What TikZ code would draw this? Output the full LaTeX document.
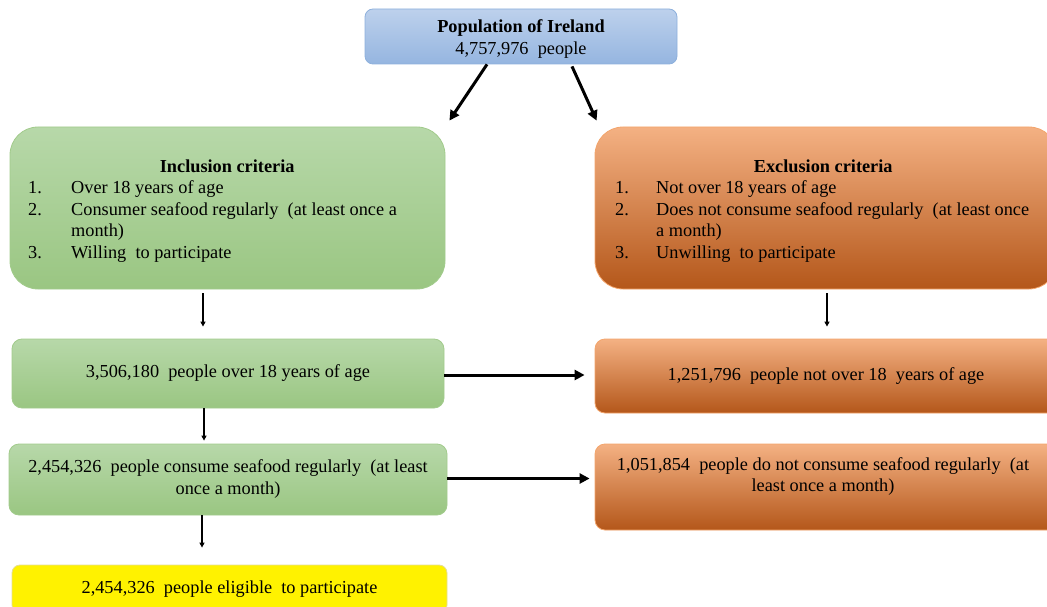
\documentclass[tikz,border=0pt]{standalone}
\usepackage{fontspec}
\setmainfont{Liberation Serif}
\usetikzlibrary{arrows.meta,calc}
\definecolor{blutop}{HTML}{BDD1EC}
\definecolor{blubot}{HTML}{95B5E0}
\definecolor{bluline}{HTML}{8DB0DC}
\definecolor{grntop}{HTML}{B7D8A9}
\definecolor{grnbot}{HTML}{9AC682}
\definecolor{grnline}{HTML}{A2CB8C}
\definecolor{ortop}{HTML}{F4B183}
\definecolor{ormid}{HTML}{EB8235}
\definecolor{orbot}{HTML}{B4571A}
\definecolor{orline}{HTML}{F3A56C}
\definecolor{yelline}{HTML}{E4DC96}
\newcommand{\dsp}{\hspace{0.25em} }
\newcommand{\itemnum}[2]{\makebox[#1][l]{#2}}
\begin{document}
\begin{tikzpicture}[x=1pt,y=-1pt,
  font=\fontsize{18.3}{21.5}\selectfont,
  boxbase/.style={draw, line width=0.8pt, inner sep=0pt, align=center},
  bluebox/.style={boxbase, draw=bluline, top color=blutop, bottom color=blubot, rounded corners=8pt},
  greenbox/.style={boxbase, draw=grnline, top color=grntop, bottom color=grnbot},
  orangebox/.style={boxbase, draw=orline, top color=ortop, middle color=ormid, bottom color=orbot},
  yellowbox/.style={boxbase, draw=yelline, fill=yellow, rounded corners=8pt},
  bigarr/.style={-{Triangle[length=10pt,width=10pt]}, line width=3pt},
  smallarr/.style={-{Triangle[length=5pt,width=5pt]}, line width=1.3pt},
  txt/.style={inner sep=0pt, align=center},
  listtxt/.style={anchor=base west, inner sep=0pt, align=left}
]
\useasboundingbox (0,0) rectangle (1047,607);
\clip (0,0) rectangle (1047,607);

% top box
\node[bluebox, minimum width=312pt, minimum height=55pt] (top) at (521,36.5) {};
\node[txt] (toptxt) at (521,39) {\textbf{Population of Ireland}\\4,757,976\dsp people};

% criteria boxes
\node[greenbox, rounded corners=28pt, minimum width=435pt, minimum height=162pt] (inc) at (227.5,208) {};
\node[orangebox, rounded corners=28pt, minimum width=462pt, minimum height=162pt] (exc) at (826,208) {};

\node[listtxt] (inctxt) at (28,258) {%
  \makebox[398pt][c]{\textbf{Inclusion criteria}}\\
  \itemnum{43pt}{1.}Over 18 years of age\\
  \itemnum{43pt}{2.}Consumer seafood regularly\dsp (at least once a\\
  \itemnum{43pt}{}month)\\
  \itemnum{43pt}{3.}Willing\dsp to participate};

\node[listtxt] (exctxt) at (615,258) {%
  \makebox[416pt][c]{\textbf{Exclusion criteria}}\\
  \itemnum{41pt}{1.}Not over 18 years of age\\
  \itemnum{41pt}{2.}Does not consume seafood regularly\dsp (at least once\\
  \itemnum{41pt}{}a month)\\
  \itemnum{41pt}{3.}Unwilling\dsp to participate};

% step boxes
\node[greenbox, rounded corners=10pt, minimum width=432pt, minimum height=69pt] (a1) at (228,373.5) {3,506,180\dsp people over 18 years of age};
\node[orangebox, rounded corners=10pt, minimum width=462pt, minimum height=74pt] (b1) at (826,376) {1,251,796\dsp people not over 18\dsp years of age};
\node[greenbox, rounded corners=10pt, minimum width=438pt, minimum height=71pt] (a2) at (228,479.5) {};
\node[txt] (a2txt) at (228,479) {2,454,326\dsp people consume seafood regularly\dsp (at least\\once a month)};
\node[orangebox, rounded corners=10pt, minimum width=462pt, minimum height=86pt] (b2) at (826,487) {};
\node[txt] (b2txt) at (823,476.5) {1,051,854\dsp people do not consume seafood regularly\dsp (at\\least once a month)};
\node[yellowbox, minimum width=435pt, minimum height=48pt] (yel) at (229.5,589) {2,454,326\dsp people eligible\dsp to participate};

% arrows
\draw[bigarr] ([xshift=-34pt]top.south) -- ([xshift=4pt,yshift=6pt]inc.north east);
\draw[bigarr] ([xshift=51pt,yshift=-2pt]top.south) -- ([xshift=2pt,yshift=6pt]exc.north west);
\draw[smallarr] ([xshift=-24.5pt,yshift=-4pt]inc.south) -- ([xshift=-25pt,yshift=12pt]a1.north);
\draw[smallarr] ([xshift=1pt,yshift=-4pt]exc.south) -- ([xshift=1pt,yshift=12pt]b1.north);
\draw[smallarr] ([xshift=-24pt]a1.south) -- ([xshift=-24pt,yshift=3pt]a2.north);
\draw[smallarr] ([xshift=-26pt]a2.south) -- ([xshift=-27.5pt,yshift=17pt]yel.north);
\draw[bigarr, shorten >=10pt] ([yshift=-1.5pt]a1.east) -- ([yshift=-1.5pt]a1.east -| b1.west);
\draw[bigarr, shorten >=5pt] ([yshift=1pt]a2.east) -- ([yshift=1pt]a2.east -| b2.west);
\end{tikzpicture}
\end{document}
